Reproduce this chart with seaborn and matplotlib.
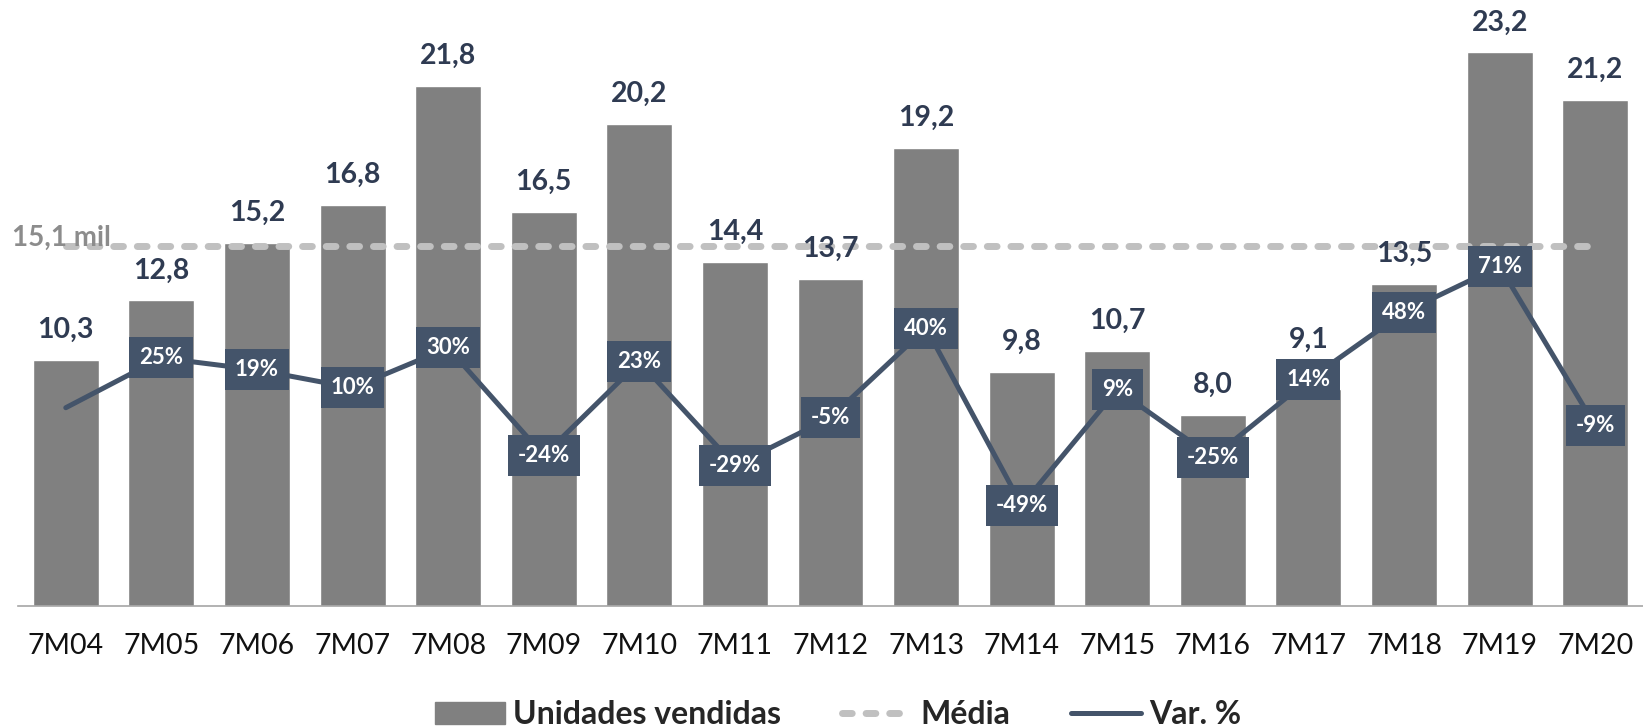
# Vendas mensais: barras + média + variação %

import pandas as pd
import numpy as np
import matplotlib.pyplot as plt
import seaborn as sns
from matplotlib.patches import Patch
from matplotlib.lines import Line2D

meses = ['7M04', '7M05', '7M06', '7M07', '7M08', '7M09', '7M10', '7M11', '7M12',
         '7M13', '7M14', '7M15', '7M16', '7M17', '7M18', '7M19', '7M20']
unidades = [10.3, 12.8, 15.2, 16.8, 21.8, 16.5, 20.2, 14.4, 13.7,
            19.2, 9.8, 10.7, 8.0, 9.1, 13.5, 23.2, 21.2]
var_pct = [0, 25, 19, 10, 30, -24, 23, -29, -5, 40, -49, 9, -25, 14, 48, 71, -9]
media = 15.1

BAR = '#808080'
NAVY = '#44546A'
LABEL = '#2F3B52'
MEAN = '#C0C0C0'

sns.set_style('white')
plt.rcParams['font.family'] = ['Lato', 'DejaVu Sans']

df = pd.DataFrame({'mes': meses, 'unidades': unidades, 'var': var_pct})
df['pos'] = np.arange(len(df))

fig = plt.figure(figsize=(16.43, 7.28), dpi=100)
ax = fig.add_axes([18 / 1643, 0.168, 1 - 18 / 1643, 0.832])

sns.barplot(data=df, x='mes', y='unidades', color=BAR, saturation=1,
            width=0.69, edgecolor='white', linewidth=1, ax=ax, zorder=1)

# linha da média
ax.plot([df['pos'].iloc[0], df['pos'].iloc[-1]], [media, media], color=MEAN,
        lw=5, dashes=(1.4, 2.0), dash_capstyle='round', zorder=2)
ax.text(-0.56, media, f"{media:.1f}".replace('.', ',') + ' mil', color='#8C8C8C',
        fontsize=20, fontweight='bold', ha='left', va='baseline', zorder=3)

# rótulos das barras
extra = {'7M17': 19}
for _, r in df.iterrows():
    ax.annotate(f"{r['unidades']:.1f}".replace('.', ','), (r['pos'], r['unidades']),
                xytext=(0, 30 + extra.get(r['mes'], 0)), textcoords='offset pixels',
                ha='center', va='center', fontsize=20.5, fontweight='bold',
                color=LABEL, zorder=4)

ax.set_ylim(0, 25.4)
ax.set_xlim(-0.5, -0.5 + 1625 / 96)
ax.set_xlabel('')
ax.set_ylabel('')
ax.set_yticks([])
for s in ['top', 'right', 'left']:
    ax.spines[s].set_visible(False)
ax.spines['bottom'].set_color('#A6A6A6')
ax.spines['bottom'].set_linewidth(1.2)
ax.tick_params(axis='x', which='major', length=0, labelsize=20.5, pad=20,
               labelcolor='#111111')
ax.set_xticks(np.arange(len(meses) + 1) - 0.5, minor=True)
ax.tick_params(axis='x', which='minor', direction='in', length=7, width=1.2,
               color='#A6A6A6')

# variação % no eixo secundário
ax2 = ax.twinx()
sns.lineplot(data=df, x='pos', y='var', color=NAVY, lw=3.6, ax=ax2, zorder=5)
ax2.set_ylim(-99.4, 204.7)
ax2.set_yticks([])
ax2.set_ylabel('')
for s in ax2.spines.values():
    s.set_visible(False)
for _, r in df.iloc[1:].iterrows():
    ax2.text(r['pos'], r['var'], f"{r['var']}%", ha='center', va='center',
             fontsize=16, fontweight='bold', color='white', zorder=6,
             bbox=dict(boxstyle='square,pad=0.45', fc=NAVY, ec='none'))

handles = [Patch(color=BAR),
           Line2D([], [], color=MEAN, lw=5, dashes=(1.4, 2.0), dash_capstyle='round'),
           Line2D([], [], color=NAVY, lw=3.6)]
fig.legend(handles, ['Unidades vendidas', 'Média', 'Var. %'], loc='center',
           bbox_to_anchor=(0.51, 0.018), ncol=3, frameon=False,
           prop={'size': 23, 'weight': 'bold'}, handlelength=2.2,
           handletextpad=0.25, columnspacing=1.9)

fig.savefig('out.png', dpi=100)
